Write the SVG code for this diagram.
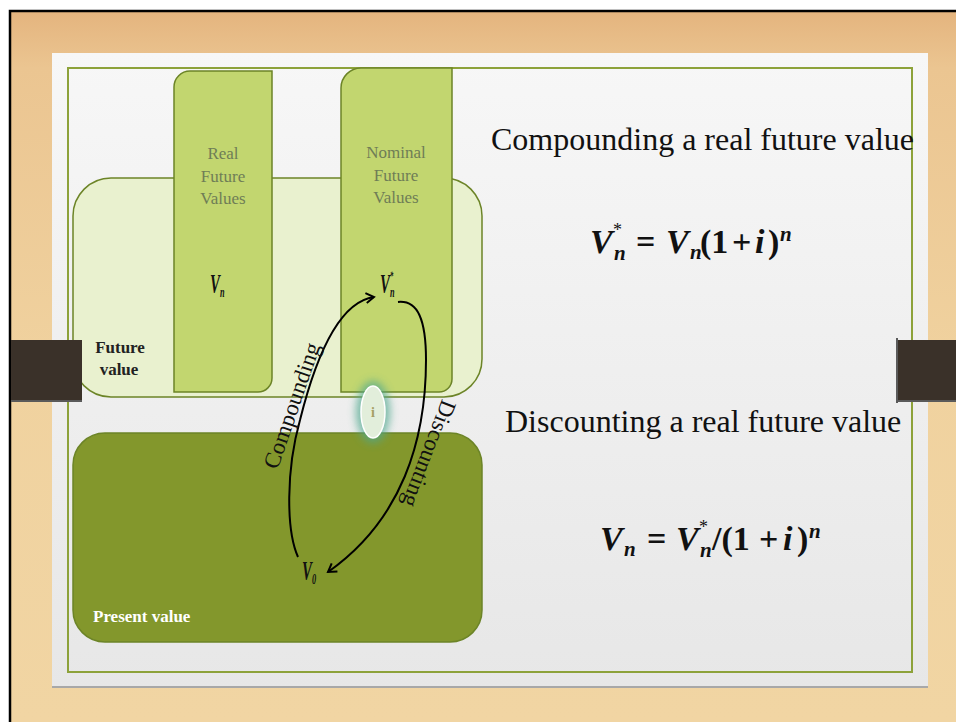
<svg xmlns="http://www.w3.org/2000/svg" width="956" height="722" viewBox="0 0 956 722">
<defs>
<linearGradient id="wood" x1="0" y1="0" x2="0" y2="1">
<stop offset="0" stop-color="#e4b47e"/>
<stop offset="0.08" stop-color="#ebc591"/>
<stop offset="0.5" stop-color="#f0d29f"/>
<stop offset="1" stop-color="#f1d5a3"/>
</linearGradient>
<linearGradient id="paper" x1="0" y1="0" x2="0" y2="1">
<stop offset="0" stop-color="#f7f7f7"/>
<stop offset="1" stop-color="#e7e7e7"/>
</linearGradient>
<filter id="glow" x="-100%" y="-100%" width="300%" height="300%">
<feGaussianBlur stdDeviation="4"/>
</filter>
<marker id="chev" viewBox="0 0 12 12" refX="10" refY="6" markerWidth="12" markerHeight="12" markerUnits="userSpaceOnUse" orient="auto">
<path d="M2,1 L10,6 L2,11" fill="none" stroke="#000" stroke-width="2"/>
</marker>
<style>
.col{fill:#c2d66f;stroke:#6c8427;stroke-width:1.5}
.coltxt{font-family:"Liberation Serif",serif;font-size:17px;fill:#6f7d56;text-anchor:middle}
.lbl{font-family:"Liberation Serif",serif;font-weight:bold;font-size:17px}
.var{font-family:"Liberation Serif",serif;font-style:italic;font-weight:bold;fill:#111}
.big{font-family:"Liberation Serif",serif;font-size:32px;fill:#111}
.rot{font-family:"Liberation Serif",serif;font-size:23px;fill:#111;text-anchor:middle}
.math{font-family:"Liberation Serif",serif;font-weight:bold;font-size:34px;fill:#111}
.mi{font-style:italic}
.ms{font-size:21px;font-style:italic}
.st{font-size:18px;font-weight:normal;font-style:normal}
.conn{fill:none;stroke:#000;stroke-width:2;marker-end:url(#chev)}
.bar{fill:#3a3129}
</style>
</defs>
<rect x="0" y="0" width="956" height="722" fill="#ffffff"/>
<rect x="10" y="11" width="946" height="711" fill="url(#wood)"/>
<path d="M10,722 V11 H956" fill="none" stroke="#000" stroke-width="2.5"/>
<rect x="52" y="53" width="876" height="635" fill="url(#paper)"/>
<line x1="52" y1="687" x2="928" y2="687" stroke="#a8a8a8" stroke-width="2"/>
<rect x="68" y="68" width="844" height="604" fill="none" stroke="#8da23a" stroke-width="2"/>

<g id="future-value">
<rect x="73" y="178" width="409" height="219" rx="38" fill="#e9f1cf" stroke="#6c8427" stroke-width="1.5"/>
<text class="lbl" x="120" y="353" text-anchor="middle" fill="#222">Future</text>
<text class="lbl" x="119" y="375" text-anchor="middle" fill="#222">value</text>
</g>
<g id="present-value">
<rect x="73" y="433" width="409" height="209" rx="32" fill="#83972c" stroke="#6c8427" stroke-width="1.5"/>
<text class="lbl" x="93" y="622" fill="#ffffff">Present value</text>
</g>
<g id="real-future">
<path class="col" d="M174,87 A16,16 0 0 1 190,71 H272 V378 A14,14 0 0 1 258,392 H174 Z"/>
<text class="coltxt" x="223" y="159">Real</text>
<text class="coltxt" x="223" y="182">Future</text>
<text class="coltxt" x="223" y="204">Values</text>
<text class="var" font-size="27" transform="translate(210,293) scale(0.55,1)">V<tspan font-size="15" dy="4">n</tspan></text>
</g>
<g id="nominal-future">
<path class="col" d="M341,88 A20,20 0 0 1 361,68 H452 V379 A13,13 0 0 1 439,392 H341 Z"/>
<text class="coltxt" x="396" y="158">Nominal</text>
<text class="coltxt" x="396" y="181">Future</text>
<text class="coltxt" x="396" y="203">Values</text>
<text class="var" font-size="27" transform="translate(380,293) scale(0.55,1)">V<tspan font-size="15" dy="4">n</tspan><tspan font-size="12" dx="-8" dy="-17">*</tspan></text>
</g>
<g id="v0">
<text class="var" font-size="27" transform="translate(302,580) scale(0.55,1)">V<tspan font-size="15" dy="4">0</tspan></text>
</g>
<g id="rate">
<ellipse cx="373" cy="412" rx="17" ry="31" fill="#4fa88e" opacity="0.75" filter="url(#glow)"/>
<ellipse cx="373" cy="412" rx="12" ry="26" fill="#e2eedb" stroke="#ffffff" stroke-width="1.5"/>
<text x="373" y="417" font-family="Liberation Serif,serif" font-weight="bold" font-size="14" fill="#a6a066" text-anchor="middle">i</text>
</g>

<g id="connectors">
<path class="conn" d="M298,557 C286,530 286,470 300,420 C315,360 338,302 374,297"/>
<path class="conn" d="M398,302 C418,300 426,320 426,360 C426,440 402,520 328,572"/>
<text class="rot" transform="translate(299,408) rotate(-71)">Compounding</text>
<text class="rot" transform="translate(422,451) rotate(111)">Discounting</text>
</g>

<g id="compounding-text">
<text class="big" x="491" y="150">Compounding a real future value</text>
<text class="math" y="253"><tspan class="mi" x="590">V</tspan><tspan class="ms st" x="613" y="236">*</tspan><tspan class="ms" x="614" y="260">n</tspan><tspan x="636" y="253">=</tspan><tspan class="mi" x="666">V</tspan><tspan class="ms" x="690" y="259">n</tspan><tspan x="700" y="253">(1</tspan><tspan x="732">+</tspan><tspan class="mi" x="755">i</tspan><tspan x="768">)</tspan><tspan class="ms" x="780" y="241">n</tspan></text>
</g>
<g id="discounting-text">
<text class="big" x="505" y="432">Discounting a real future value</text>
<text class="math" y="550"><tspan class="mi" x="600">V</tspan><tspan class="ms" x="624" y="556">n</tspan><tspan x="647" y="550">=</tspan><tspan class="mi" x="676">V</tspan><tspan class="ms st" x="699" y="533">*</tspan><tspan class="ms" x="700" y="557">n</tspan><tspan x="712" y="550">/(1</tspan><tspan x="759">+</tspan><tspan class="mi" x="783">i</tspan><tspan x="797">)</tspan><tspan class="ms" x="809" y="538">n</tspan></text>
</g>

<rect class="bar" x="11" y="340" width="71" height="61"/>
<line x1="11" y1="401" x2="82" y2="401" stroke="#5a5a5a" stroke-width="2"/>
<rect class="bar" x="897" y="340" width="59" height="61"/>
<line x1="897" y1="401" x2="956" y2="401" stroke="#5a5a5a" stroke-width="2"/>
<line x1="897" y1="338" x2="897" y2="403" stroke="#5a5a5a" stroke-width="2"/>
</svg>
